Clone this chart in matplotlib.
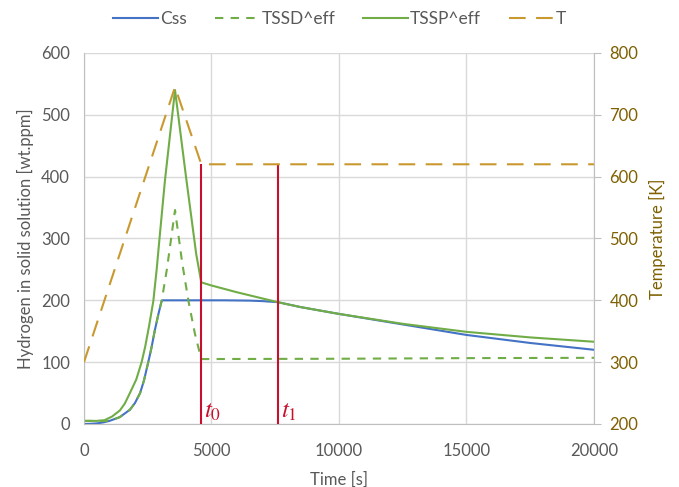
import matplotlib
matplotlib.use("Agg")
import matplotlib.pyplot as plt

plt.rcParams['font.family'] = ['Lato', 'DejaVu Sans']

# hydrogen concentration in solid solution [wt.ppm]
css_t = [0, 250, 500, 750, 1000, 1400, 1800, 2000, 2200, 2350, 2520, 2650, 2780, 2920, 3045, 3080,
         4600, 5500, 6500, 7000, 7600, 8500, 10000, 12500, 15000, 17500, 20000]
css = [0, 0.3, 1, 2.5, 5, 11, 23, 34, 50, 70, 100, 124, 152, 178, 199, 200,
       200, 200, 199.5, 198.7, 197, 189, 178, 161, 144, 131, 120]

# dissolution solubility (dashed)
tssd_t = [0, 500, 1000, 1400, 1800, 2000, 2200, 2350, 2520, 2650, 2780, 2920, 3045, 3250, 3570,
          3850, 4100, 4350, 4600, 10000, 15000, 20000]
tssd = [5, 5, 5, 11, 23, 34, 50, 70, 100, 124, 152, 178, 199, 250, 346,
        261, 198, 146, 105, 105.5, 106.5, 107]

# precipitation solubility (solid)
tssp_t = [0, 500, 800, 1100, 1410, 1600, 1800, 2050, 2260, 2400, 2550, 2720, 2850, 2950, 3175, 3570,
          4000, 4400, 4600, 5000, 6000, 7000, 7600, 8500, 10000, 12500, 15000, 17500, 20000]
tssp = [5, 5, 6, 12, 22, 33, 50, 72, 100, 125, 158, 199, 250, 295, 394, 540,
        400, 275, 229, 224, 213, 203, 197, 189, 178, 162, 149, 140, 133]

# temperature history [K]
temp_t = [0, 3570, 4600, 20000]
temp = [300, 745, 620, 620]

t0, t1 = 4600, 7600
t_level = 420  # red markers reach the hold temperature (left-axis units)

blue = '#4472C4'
green = '#70AD47'
gold = '#C9992F'
red = '#C8102E'
brown = '#7F6000'
grey = '#595959'

fig, ax = plt.subplots(figsize=(6.79, 4.87), dpi=100)
fig.subplots_adjust(left=0.1237, right=0.8748, bottom=0.1294, top=0.8912)
ax2 = ax.twinx()

l1, = ax.plot(css_t, css, color=blue, lw=1.5, label='Css')
l2, = ax.plot(tssd_t, tssd, color=green, lw=1.5, dashes=(4, 3.5), label='TSSD^eff')
l3, = ax.plot(tssp_t, tssp, color=green, lw=1.5, label='TSSP^eff')
l4, = ax2.plot(temp_t, temp, color=gold, lw=1.5, dashes=(8, 5), label='T')

for t, name in [(t0, r'$t_0$'), (t1, r'$t_1$')]:
    ax.vlines(t, 0, t_level, color=red, lw=1.5, zorder=4)
    ax.text(t + 110, 1, name, color=red, fontsize=18, math_fontfamily='stix',
            ha='left', va='bottom')

ax.set_xlim(0, 20000)
ax.set_ylim(0, 600)
ax2.set_ylim(200, 800)
ax.set_xticks(range(0, 20001, 5000))
ax.set_yticks(range(0, 601, 100))
ax2.set_yticks(range(200, 801, 100))

ax.grid(True, color='#D9D9D9', lw=1)
ax.set_axisbelow(True)

for a in (ax, ax2):
    a.spines['top'].set_visible(False)
    for s in ('left', 'bottom', 'right'):
        a.spines[s].set_color('#BFBFBF')
ax.spines['right'].set_visible(False)
ax2.spines['left'].set_visible(False)
ax2.spines['bottom'].set_visible(False)

ax.tick_params(axis='y', length=0, labelsize=12, labelcolor=grey, pad=10)
ax.tick_params(axis='x', length=0, labelsize=12, labelcolor=grey, pad=14)
ax2.tick_params(axis='y', length=5, color='#BFBFBF', labelsize=12, labelcolor=brown, pad=6)

ax.set_xlabel('Time [s]', fontsize=12, color=grey, labelpad=9)
ax.set_ylabel('Hydrogen in solid solution [wt.ppm]', fontsize=12, color=grey, labelpad=5)
ax2.set_ylabel('Temperature [K]', fontsize=12, color=brown, labelpad=8)

fig.legend([l1, l2, l3, l4], ['Css', 'TSSD^eff', 'TSSP^eff', 'T'],
           loc='upper center', bbox_to_anchor=(0.5, 1.01), ncol=4, frameon=False,
           fontsize=12.5, labelcolor=grey, handlelength=2.6, handletextpad=0.1,
           columnspacing=1.6)

fig.savefig('out.png', dpi=100)
